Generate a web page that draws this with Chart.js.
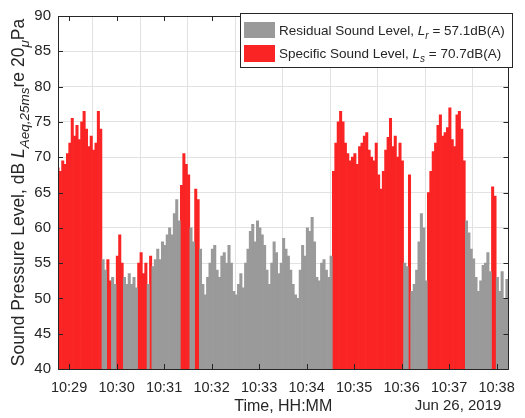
<!DOCTYPE html>
<html>
<head>
<meta charset="utf-8">
<script src="https://cdn.jsdelivr.net/npm/chart.js@4.4.1/dist/chart.umd.min.js"></script>
<style>
  html, body { margin: 0; padding: 0; background: #fff; }
  #wrap { width: 525px; height: 418px; }
</style>
</head>
<body>
<div id="wrap"><canvas id="canvas"></canvas></div>
<script>
// LAeq,25ms samples, every 3 s, starting 14 s before 10:29:00
var START_SEC = -14;
var STEP_SEC = 3;
var LEVELS = [
    68.5, 68, 69.5, 69, 70.5, 72, 75.5, 73, 74.5, 72.5,
    75, 76.5, 74, 71.5, 73, 71, 72, 76.5, 74, 55.5,
    54, 55.5, 52.5, 53, 52, 56, 59, 55, 53, 52,
    53.5, 52, 53, 51.5, 55, 56.5, 53.5, 55, 52, 56,
    54.5, 55.5, 57, 55.5, 58, 57.5, 59, 60, 59, 62,
    64, 61, 66, 70.5, 69, 67.5, 60, 58, 65.5, 64,
    57, 52, 50.5, 53, 55, 57, 57.5, 54, 53, 56,
    56.5, 55, 57.5, 55, 51, 50.5, 52, 53.5, 51.5, 55,
    57, 59.5, 60.5, 58, 61, 60, 59, 57.5, 54, 52,
    55, 58, 56.5, 53.5, 55, 58.5, 57, 56, 54, 52,
    50.5, 50, 54, 57.5, 56, 60, 59.5, 61.5, 58, 53,
    52.5, 55, 55.5, 54, 53, 56, 68, 72, 75, 76.5,
    75, 72, 70.5, 69.5, 70, 70.5, 69, 71.5, 72, 73,
    73.5, 71, 70, 69.5, 72, 67.5, 65.5, 68, 71, 72.8,
    75.5, 71.5, 73, 70, 72, 69.5, 55, 54.5, 67.5, 51,
    52, 54, 58, 62, 60, 52.5, 65, 68, 70.8, 72,
    74.5, 76, 73, 73.5, 74.2, 77, 72.5, 71.5, 76, 76.5,
    74, 69.5, 61, 59.3, 57, 55.6, 53, 51, 52.5, 54.7,
    55, 56.5, 53.8, 65.8, 64.5, 53, 51, 53.8, 50, 52.7
];
// periods (s from 10:29:00) flagged as the specific source
var SPECIFIC_SPANS = [[-14, 40], [49, 52], [61, 67], [88, 97], [103, 103], [142, 151],
    [160, 163], [334, 421], [430, 430], [454, 499], [535, 538]];
var MINUTE_LABELS = ['10:29', '10:30', '10:31', '10:32', '10:33', '10:34', '10:35', '10:36', '10:37', '10:38'];
var Y_TICKS = [40, 45, 50, 55, 60, 65, 70, 75, 80, 85, 90];
var RESIDUAL_LEQ = '57.1';
var SPECIFIC_LEQ = '70.7';
var DATE_LABEL = 'Jun 26, 2019';

var GREY = 'rgb(154, 154, 154)';
var RED = 'rgb(250, 36, 36)';
var INK = '#262626';
var FONT = '"Liberation Sans", Arial, Helvetica, sans-serif';

function isSpecific(t) {
    return SPECIFIC_SPANS.some(function(s) { return t >= s[0] && t <= s[1]; });
}

var residual = [];
var specific = [];
LEVELS.forEach(function(v, i) {
    var t = START_SEC + i * STEP_SEC;
    if (isSpecific(t)) specific.push({x: t, y: v});
    else residual.push({x: t, y: v});
});

function font(size, italic) {
    return (italic ? 'italic ' : '') + size + 'px ' + FONT;
}

// draw a run of text pieces one after another, each with its own font and baseline shift
function drawRuns(ctx, runs, x, y) {
    runs.forEach(function(r) {
        ctx.font = font(r.size, r.italic);
        ctx.fillText(r.text, x, y + (r.dy || 0));
        x += ctx.measureText(r.text).width;
    });
    return x;
}
function runsWidth(ctx, runs) {
    var w = 0;
    runs.forEach(function(r) {
        ctx.font = font(r.size, r.italic);
        w += ctx.measureText(r.text).width;
    });
    return w;
}

var matlabAxes = {
    id: 'matlabAxes',
    afterDraw: function(chart) {
        var ctx = chart.ctx;
        var a = chart.chartArea;
        var xs = chart.scales.x, ys = chart.scales.y;
        ctx.save();

        // box and inward ticks
        ctx.strokeStyle = INK;
        ctx.lineWidth = 1;
        ctx.beginPath();
        ctx.rect(Math.round(a.left) + 0.5, Math.round(a.top) + 0.5,
            Math.round(a.right - a.left), Math.round(a.bottom - a.top));
        MINUTE_LABELS.forEach(function(l, i) {
            var px = Math.round(xs.getPixelForValue(i * 60)) + 0.5;
            ctx.moveTo(px, a.bottom); ctx.lineTo(px, a.bottom - 5);
            ctx.moveTo(px, a.top); ctx.lineTo(px, a.top + 5);
        });
        Y_TICKS.forEach(function(v) {
            var py = Math.round(ys.getPixelForValue(v)) + 0.5;
            ctx.moveTo(a.left, py); ctx.lineTo(a.left + 5, py);
            ctx.moveTo(a.right, py); ctx.lineTo(a.right - 5, py);
        });
        ctx.stroke();

        // legend
        var lx = 240.5, ly = 13.5, lw = 272, lh = 54;
        ctx.fillStyle = '#fff';
        ctx.fillRect(lx, ly, lw, lh);
        ctx.strokeRect(lx, ly, lw, lh);
        ctx.fillStyle = GREY;
        ctx.fillRect(244, 22, 31, 16);
        ctx.fillStyle = RED;
        ctx.fillRect(244, 45, 31, 17);
        ctx.fillStyle = INK;
        ctx.textBaseline = 'alphabetic';
        ctx.textAlign = 'left';
        drawRuns(ctx, [
            {text: 'Residual Sound Level, ', size: 13.5},
            {text: 'L', size: 13.5, italic: true},
            {text: 'r', size: 10, italic: true, dy: 4},
            {text: ' = ' + RESIDUAL_LEQ + 'dB(A)', size: 13.5}
        ], 279, 35);
        drawRuns(ctx, [
            {text: 'Specific Sound Level, ', size: 13.5},
            {text: 'L', size: 13.5, italic: true},
            {text: 's', size: 10, italic: true, dy: 4},
            {text: ' = ' + SPECIFIC_LEQ + 'dB(A)', size: 13.5}
        ], 279, 58);

        // y axis title, rotated
        var yRuns = [
            {text: 'Sound Pressure Level, dB ', size: 17.5},
            {text: 'L', size: 17.5, italic: true},
            {text: 'Aeq,25ms', size: 13.5, italic: true, dy: 5},
            {text: 're 20', size: 17.5},
            {text: '\u03bc', size: 13.5, italic: true, dy: 5},
            {text: 'Pa', size: 17.5}
        ];
        var w = runsWidth(ctx, yRuns);
        ctx.translate(24, (a.top + a.bottom) / 2);
        ctx.rotate(-Math.PI / 2);
        drawRuns(ctx, yRuns, -w / 2, 0);
        ctx.setTransform(1, 0, 0, 1, 0, 0);

        // date under the last ticks
        ctx.font = font(15);
        ctx.textAlign = 'center';
        ctx.textBaseline = 'middle';
        ctx.fillText(DATE_LABEL, 458, 406);
        ctx.restore();
    }
};

window.onload = function() {
    var ctx = document.getElementById('canvas').getContext('2d');
    window.myBar = new Chart(ctx, {
        type: 'bar',
        data: {
            datasets: [{
                label: 'Residual Sound Level',
                data: residual,
                backgroundColor: GREY,
                borderWidth: 0,
                grouped: false,
                barPercentage: 1,
                categoryPercentage: 1
            }, {
                label: 'Specific Sound Level',
                data: specific,
                backgroundColor: RED,
                borderWidth: 0,
                grouped: false,
                barPercentage: 1,
                categoryPercentage: 1
            }]
        },
        options: {
            responsive: true,
            maintainAspectRatio: false,
            animation: false,
            events: [],
            layout: {padding: {left: 0, right: 10, top: 10, bottom: 0}},
            plugins: {
                legend: {display: false},
                tooltip: {enabled: false}
            },
            scales: {
                x: {
                    type: 'linear',
                    min: START_SEC,
                    max: 555,
                    offset: false,
                    afterBuildTicks: function(scale) {
                        scale.ticks = MINUTE_LABELS.map(function(l, i) { return {value: i * 60}; });
                    },
                    afterFit: function(scale) { scale.height = 49; },
                    grid: {color: '#e2e2e2', drawTicks: false},
                    border: {display: false},
                    ticks: {
                        color: INK,
                        font: {family: FONT, size: 14.5},
                        padding: 10,
                        maxRotation: 0,
                        autoSkip: false,
                        callback: function(v) { return MINUTE_LABELS[Math.round(v / 60)]; }
                    },
                    title: {
                        display: true,
                        text: 'Time, HH:MM',
                        color: INK,
                        font: {family: FONT, size: 16},
                        padding: {top: 0, bottom: 2}
                    }
                },
                y: {
                    min: 40,
                    max: 90,
                    afterBuildTicks: function(scale) {
                        scale.ticks = Y_TICKS.map(function(v) { return {value: v}; });
                    },
                    afterFit: function(scale) { scale.width = 58; },
                    grid: {color: '#e2e2e2', drawTicks: false},
                    border: {display: false},
                    ticks: {
                        color: INK,
                        font: {family: FONT, size: 15},
                        padding: 7
                    }
                }
            }
        },
        plugins: [matlabAxes]
    });
};
</script>
</body>
</html>
